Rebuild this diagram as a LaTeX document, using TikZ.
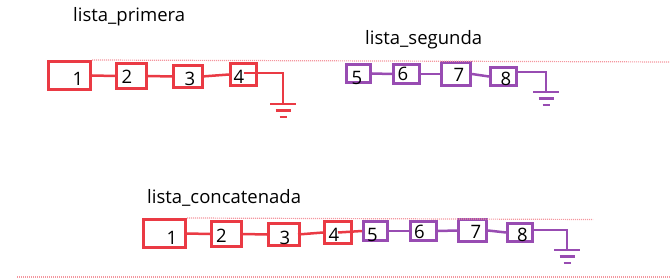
\documentclass[tikz,border=0pt]{standalone}
\usepackage{fontspec}
\setmainfont{Open Sans}
\usepackage{tikz}
\usetikzlibrary{positioning, calc}
\usepackage{xcolor}
\definecolor{Coral}{RGB}{234, 58, 68}
\definecolor{Plum}{RGB}{152, 76, 178}
\definecolor{Blush}{RGB}{244, 150, 158}

\begin{document}
\begin{tikzpicture}[
      x=1pt, y=-1pt,
      lbl/.style={anchor=base west, inner sep=0pt,
                  font=\fontsize{18.5}{22}\selectfont},
      num/.style={inner sep=0pt, font=\fontsize{18.5}{22}\selectfont},
      rbox/.style={draw=Coral, line width=3pt, inner sep=0pt},
      pbox/.style={draw=Plum, line width=3pt, inner sep=0pt},
      rlink/.style={Coral, line width=2.5pt},
      plink/.style={Plum, line width=2.5pt},
      guide/.style={Blush, line width=1.2pt, dash pattern=on 1pt off 1pt},
      ground/.pic={
        \draw[line width=2.5pt] (-13,0) -- (13,0);
        \draw[line width=2.5pt] (-7.5,6.5) -- (7.5,6.5);
        \draw[line width=2.5pt] (-3.5,13) -- (3.5,13);
      }
    ]
      \useasboundingbox (0,0) rectangle (670,278);

      % first list
      \node[lbl] (tprim) at (73,22) {lista\_primera};
      \node[rbox, minimum width=42, minimum height=28] (p1) at (69.5,75.5) {};
      \node[rbox, minimum width=30, minimum height=25] (p2) at (131.5,76) {};
      \node[rbox, minimum width=29, minimum height=22] (p3) at (188,76.5) {};
      \node[rbox, minimum width=26, minimum height=22] (p4) at (243.5,74.5) {};
      \coordinate (gp) at (283,104);

      % second list
      \node[lbl] (tseg) at (365,45) {lista\_segunda};
      \node[pbox, minimum width=24, minimum height=18] (s5) at (358.5,73.5) {};
      \node[pbox, minimum width=26, minimum height=19] (s6) at (406.5,74) {};
      \node[pbox, minimum width=29, minimum height=23] (s7) at (456,74) {};
      \node[pbox, minimum width=26, minimum height=18] (s8) at (503.5,76.5) {};
      \coordinate (gs) at (546,92);

      % joined list
      \node[lbl] (tcat) at (147,203) {lista\_concatenada};
      \node[rbox, minimum width=42, minimum height=28] (c1) at (164.5,233.5) {};
      \node[rbox, minimum width=30, minimum height=25] (c2) at (226.5,234) {};
      \node[rbox, minimum width=31, minimum height=22] (c3) at (284,234.5) {};
      \node[rbox, minimum width=27, minimum height=22] (c4) at (338,232.5) {};
      \node[pbox, minimum width=24, minimum height=19] (c5) at (375.5,231) {};
      \node[pbox, minimum width=26, minimum height=19] (c6) at (423.5,231) {};
      \node[pbox, minimum width=28, minimum height=22] (c7) at (472.5,230.5) {};
      \node[pbox, minimum width=25, minimum height=18] (c8) at (520,232.5) {};
      \coordinate (gc) at (567,250);

      % dotted guides
      \draw[guide] (p1.north east) -- (670,62);
      \draw[guide] (c1.north east) -- (593,219.5);
      \draw[guide] (17,277) -- (670,277);

      % links
      \draw[rlink] (p1.east) -- (p2.west);
      \draw[rlink] (p2.east) -- (p3.west);
      \draw[rlink] (p3.center) ++(14,0) -- (p4.west);
      \draw[rlink] ($(p4.center)+(0,-1.5)$) -| (gp);
      \pic[Coral] at (gp) {ground};

      \draw[plink] (s5.east) -- (s6.west);
      \draw[plink] (s6.east) -- (s7.west);
      \draw[plink] (s7.east) -- (s8.west);
      \draw[plink] (s8.east |- 0,72) -| (gs);
      \pic[Plum] at (gs) {ground};

      \draw[rlink] (c1.east) -- (c2.west);
      \draw[rlink] (c2.east) -- (c3.west);
      \draw[rlink] (c3.center) ++(14,0) -- (c4.west);
      \draw[rlink] (c4.center) -- (c5.west);
      \draw[plink] (c5.east) -- (c6.west);
      \draw[plink] (c6.east) -- (c7.west);
      \draw[plink] (c7.east) -- (c8.west);
      \draw[plink] (c8.east |- 0,230) -| (gc);
      \pic[Plum] at (gc) {ground};

      % values
      \node[num] at (78,79) {1};
      \node[num] at (127,77) {2};
      \node[num] at (190,79) {3};
      \node[num] at (239,77) {4};
      \node[num] at (357,78) {5};
      \node[num] at (403,74) {6};
      \node[num] at (459,75) {7};
      \node[num] at (506,79) {8};

      \node[num] at (172,238) {1};
      \node[num] at (221.5,236) {2};
      \node[num] at (285,237.5) {3};
      \node[num] at (334,234.5) {4};
      \node[num] at (372.5,235) {5};
      \node[num] at (419.5,231.5) {6};
      \node[num] at (476,231.5) {7};
      \node[num] at (522.5,235) {8};
    \end{tikzpicture}
\end{document}
